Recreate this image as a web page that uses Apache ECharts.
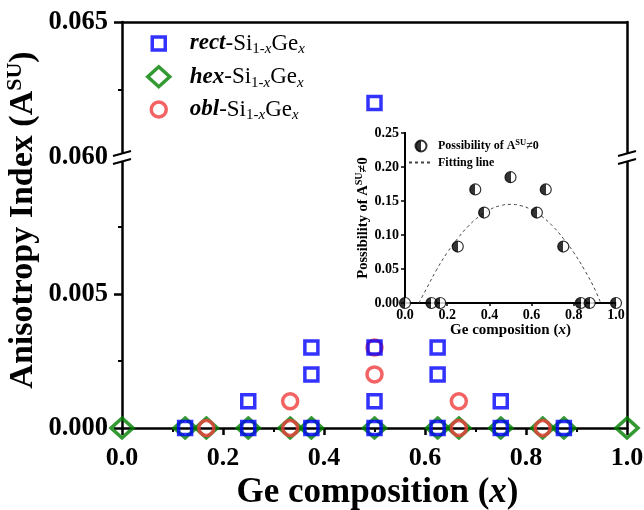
<!DOCTYPE html>
<html>
<head>
<meta charset="utf-8">
<script src="https://cdn.jsdelivr.net/npm/echarts@6/dist/echarts.min.js"></script>
<style>
html, body { margin: 0; padding: 0; background: #fff; }
#main { width: 644px; height: 510px; }
</style>
</head>
<body>
<div id="main"></div>
<script>
// Ge compositions used for all structures
var compositions = [0, 0.125, 0.167, 0.25, 0.333, 0.375, 0.5, 0.625, 0.667, 0.75, 0.833, 0.875, 1];

// anisotropy index, [x, A_SU]
var rectLow = [[0.125, 0], [0.25, 0], [0.25, 0.001], [0.375, 0], [0.375, 0.002], [0.375, 0.003],
  [0.5, 0], [0.5, 0.001], [0.5, 0.003], [0.625, 0], [0.625, 0.002], [0.625, 0.003],
  [0.75, 0], [0.75, 0.001], [0.875, 0]];
var rectHigh = [[0.5, 0.062]];
var hexVals = [0, 0, 0, 0, 0, 0, 0, 0, 0, 0, 0, 0, 0];
var oblData = [[0.167, 0], [0.333, 0], [0.333, 0.001], [0.5, 0.002], [0.5, 0.003],
  [0.667, 0], [0.667, 0.001], [0.833, 0]];

// inset: possibility of A_SU != 0
var possVals = [0, 0, 0, 0.083, 0.167, 0.133, 0.185, 0.133, 0.167, 0.083, 0, 0, 0];
var fitX = [0.066, 0.1, 0.15, 0.2, 0.25, 0.3, 0.35, 0.4, 0.45, 0.5, 0.55, 0.6, 0.65, 0.7, 0.75, 0.8, 0.85, 0.9, 0.927];
var fitY = [0, 0.02, 0.049, 0.074, 0.095, 0.113, 0.127, 0.137, 0.143, 0.145, 0.143, 0.137, 0.127, 0.113, 0.095, 0.074, 0.049, 0.02, 0];

var FONT = "'Liberation Serif', 'Times New Roman', serif";

var hexData = compositions.map(function (x, i) { return [x, hexVals[i]]; });
var possData = compositions.map(function (x, i) { return [x, possVals[i]]; });
var fitData = fitX.map(function (x, i) { return [x, fitY[i]]; });

var myChart = echarts.init(document.getElementById('main'));

var legendRich = {
  bi: { fontFamily: FONT, fontSize: 23, fontWeight: 'bold', fontStyle: 'italic', color: '#000' },
  n: { fontFamily: FONT, fontSize: 23, color: '#000' },
  s: { fontFamily: FONT, fontSize: 15, color: '#000', padding: [12, 0, 0, 0] },
  si: { fontFamily: FONT, fontSize: 15, fontStyle: 'italic', color: '#000', padding: [12, 0, 0, 0] }
};
var legendLabels = {
  rect: '{bi|rect}{n|-Si}{s|1-}{si|x}{n|Ge}{si|x}',
  hex: '{bi|hex}{n|-Si}{s|1-}{si|x}{n|Ge}{si|x}',
  obl: '{bi|obl}{n|-Si}{s|1-}{si|x}{n|Ge}{si|x}'
};
// icon centred at x=157, text starting at x=188
function mainLegend(name, top, w, h) {
  return {
    data: [name], left: 157 - w / 2, top: top, padding: 0, orient: 'vertical',
    itemWidth: w, itemHeight: h,
    itemStyle: { borderWidth: 3.5 },
    formatter: function (n) { return legendLabels[n]; },
    textStyle: { rich: legendRich, padding: [0, 0, 0, 188 - (157 + w / 2 + 5)] }
  };
}

var lineOnly = { show: true, lineStyle: { color: '#000', width: 2.5 } };
var boldLabel = { fontFamily: FONT, fontWeight: 'bold', color: '#000' };

option = {
  backgroundColor: '#fff',
  animation: false,
  grid: [
    { left: 122, top: 22, width: 505, height: 135, outerBoundsMode: 'none' },
    { left: 122, top: 160, width: 505, height: 268, outerBoundsMode: 'none' },
    { left: 405, top: 133, width: 211, height: 170, outerBoundsMode: 'none',
      show: true, backgroundColor: '#fff', borderWidth: 0, z: 5 }
  ],
  legend: [
    mainLegend('rect', 32, 13, 13),
    mainLegend('hex', 65, 22, 20),
    mainLegend('obl', 98, 15, 15),
    {
      data: ['Possibility', {
        name: 'Fitting line',
        itemStyle: { color: 'rgba(0,0,0,0)', borderColor: 'rgba(0,0,0,0)', borderWidth: 0 }
      }],
      left: 408, top: 138, padding: 0, orient: 'vertical',
      itemWidth: 24, itemHeight: 11, itemGap: 4, z: 10,
      formatter: function (n) {
        return n === 'Possibility' ? '{n|Possibility of A}{sup|SU}{n|≠0}' : '{n|Fitting line}';
      },
      textStyle: {
        rich: {
          n: { fontFamily: FONT, fontSize: 12, fontWeight: 'bold', color: '#000' },
          sup: { fontFamily: FONT, fontSize: 8.5, fontWeight: 'bold', color: '#000', padding: [0, 0, 7, 0] }
        }
      }
    }
  ],
  xAxis: [
    { gridIndex: 0, type: 'value', min: 0, max: 1, position: 'top',
      axisLine: lineOnly, axisTick: { show: false }, axisLabel: { show: false }, splitLine: { show: false } },
    { gridIndex: 1, type: 'value', min: 0, max: 1, interval: 0.2, position: 'bottom',
      axisLine: lineOnly,
      axisTick: { show: true, length: 7, lineStyle: { color: '#000', width: 2.5 } },
      minorTick: { show: true, splitNumber: 2, length: 4, lineStyle: { color: '#000', width: 2 } },
      axisLabel: Object.assign({ fontSize: 26, margin: 17, formatter: function (v) { return v.toFixed(1); } }, boldLabel),
      splitLine: { show: false },
      name: 'Ge composition ({i|x})', nameLocation: 'middle', nameGap: 43,
      nameTextStyle: {
        fontFamily: FONT, fontSize: 35, fontWeight: 'bold', color: '#000', padding: [0, 0, 0, 6],
        rich: { i: { fontFamily: FONT, fontSize: 35, fontWeight: 'bold', fontStyle: 'italic', color: '#000' } }
      } },
    { gridIndex: 2, type: 'value', min: 0, max: 1, interval: 0.2, position: 'bottom', z: 6,
      axisLine: { show: true, lineStyle: { color: '#000', width: 2 } },
      axisTick: { show: true, length: 3, lineStyle: { color: '#000', width: 1.5 } },
      axisLabel: Object.assign({ fontSize: 14, margin: 5, formatter: function (v) { return v.toFixed(1); } }, boldLabel),
      splitLine: { show: false },
      name: 'Ge composition ({i|x})', nameLocation: 'middle', nameGap: 18,
      nameTextStyle: {
        fontFamily: FONT, fontSize: 15, fontWeight: 'bold', color: '#000',
        rich: { i: { fontFamily: FONT, fontSize: 15, fontWeight: 'bold', fontStyle: 'italic', color: '#000' } }
      } },
    { gridIndex: 2, type: 'value', min: 0, max: 1, position: 'top', z: 6,
      axisLine: { show: true, lineStyle: { color: '#000', width: 2 } },
      axisTick: { show: false }, axisLabel: { show: false }, splitLine: { show: false } }
  ],
  yAxis: [
    { gridIndex: 0, type: 'value', min: 0.06, max: 0.065, interval: 0.005, position: 'left',
      axisLine: lineOnly,
      axisTick: { show: true, length: 8, lineStyle: { color: '#000', width: 2.5 } },
      minorTick: { show: true, splitNumber: 2, length: 4, lineStyle: { color: '#000', width: 2 } },
      axisLabel: Object.assign({ fontSize: 26.5, margin: 14, formatter: function (v) { return v.toFixed(3); } }, boldLabel),
      splitLine: { show: false } },
    { gridIndex: 0, type: 'value', min: 0.06, max: 0.065, position: 'right',
      axisLine: lineOnly, axisTick: { show: false }, axisLabel: { show: false }, splitLine: { show: false } },
    { gridIndex: 1, type: 'value', min: 0, max: 0.01, interval: 0.005, position: 'left',
      axisLine: lineOnly,
      axisTick: { show: true, length: 8, customValues: [0, 0.005], lineStyle: { color: '#000', width: 2.5 } },
      minorTick: { show: true, splitNumber: 2, length: 4, lineStyle: { color: '#000', width: 2 } },
      axisLabel: Object.assign({ fontSize: 26.5, margin: 14, customValues: [0, 0.005], formatter: function (v) { return v.toFixed(3); } }, boldLabel),
      splitLine: { show: false } },
    { gridIndex: 1, type: 'value', min: 0, max: 0.01, position: 'right',
      axisLine: lineOnly, axisTick: { show: false }, axisLabel: { show: false }, splitLine: { show: false } },
    { gridIndex: 2, type: 'value', min: 0, max: 0.25, interval: 0.05, position: 'left', z: 6,
      axisLine: { show: true, lineStyle: { color: '#000', width: 2 } },
      axisTick: { show: true, length: 4, lineStyle: { color: '#000', width: 1.5 } },
      axisLabel: Object.assign({ fontSize: 14, margin: 6, formatter: function (v) { return v.toFixed(2); } }, boldLabel),
      splitLine: { show: false },
      name: '{n|Possibility of A}{sup|SU}{n|≠0}', nameLocation: 'middle', nameGap: 31,
      nameTextStyle: {
        rich: {
          n: { fontFamily: FONT, fontSize: 14.5, fontWeight: 'bold', color: '#000' },
          sup: { fontFamily: FONT, fontSize: 10, fontWeight: 'bold', color: '#000', padding: [0, 0, 8, 0] }
        }
      } },
    { gridIndex: 2, type: 'value', min: 0, max: 0.25, position: 'right', z: 6,
      axisLine: { show: true, lineStyle: { color: '#000', width: 2 } },
      axisTick: { show: false }, axisLabel: { show: false }, splitLine: { show: false } }
  ],
  series: [
    { name: 'hex', type: 'scatter', xAxisIndex: 1, yAxisIndex: 2, data: hexData, clip: false,
      symbol: 'diamond', symbolSize: [22, 20],
      itemStyle: { color: 'rgba(0,0,0,0)', borderColor: '#008000', borderWidth: 3.5 } },
    { name: 'obl', type: 'scatter', xAxisIndex: 1, yAxisIndex: 2, data: oblData, clip: false,
      symbol: 'circle', symbolSize: 15,
      itemStyle: { color: 'rgba(0,0,0,0)', borderColor: '#f03c3c', borderWidth: 3.5 } },
    { name: 'rect', type: 'scatter', xAxisIndex: 1, yAxisIndex: 2, data: rectLow, clip: false,
      symbol: 'rect', symbolSize: 13,
      itemStyle: { color: 'rgba(0,0,0,0)', borderColor: '#0000ff', borderWidth: 3.5 } },
    { name: 'rect', type: 'scatter', xAxisIndex: 0, yAxisIndex: 0, data: rectHigh, clip: false,
      symbol: 'rect', symbolSize: 13,
      itemStyle: { color: 'rgba(0,0,0,0)', borderColor: '#0000ff', borderWidth: 3.5 } },
    { name: 'Fitting line', type: 'line', xAxisIndex: 2, yAxisIndex: 4, data: fitData, smooth: true,
      symbol: 'none', z: 6,
      lineStyle: { color: '#444', width: 1, type: [3, 3] }, itemStyle: { color: '#444' } },
    { name: 'Possibility', type: 'scatter', xAxisIndex: 2, yAxisIndex: 4, data: possData, clip: false,
      symbol: 'circle', symbolSize: 11, z: 7,
      itemStyle: {
        color: new echarts.graphic.LinearGradient(0, 0, 1, 0, [
          { offset: 0, color: '#000' }, { offset: 0.5, color: '#000' },
          { offset: 0.5, color: '#fff' }, { offset: 1, color: '#fff' }
        ]),
        borderColor: '#000', borderWidth: 1.2
      } }
  ],
  graphic: [
    {
      type: 'text', x: 23, y: 220, rotation: Math.PI / 2, z: 100,
      style: {
        text: '{n|Anisotropy Index (A}{sup|SU}{n|)}',
        align: 'center', verticalAlign: 'middle',
        rich: {
          n: { fontFamily: FONT, fontSize: 34, fontWeight: 'bold', fill: '#000' },
          sup: { fontFamily: FONT, fontSize: 22, fontWeight: 'bold', fill: '#000', padding: [0, 0, 15, 0] }
        }
      }
    }
  ]
};

// axis break marks on both sides
[122, 627].forEach(function (bx) {
  option.graphic.push({
    type: 'polygon', z: 100,
    shape: { points: [[bx - 9, 156], [bx + 9, 151], [bx + 9, 159], [bx - 9, 164]] },
    style: { fill: '#fff' }
  });
  option.graphic.push({
    type: 'line', z: 101,
    shape: { x1: bx - 9, y1: 156, x2: bx + 9, y2: 151 },
    style: { stroke: '#000', lineWidth: 2 }
  });
  option.graphic.push({
    type: 'line', z: 101,
    shape: { x1: bx - 9, y1: 164, x2: bx + 9, y2: 159 },
    style: { stroke: '#000', lineWidth: 2 }
  });
});

myChart.setOption(option);

window.addEventListener('resize', function () {
  myChart.resize();
});
</script>
</body>
</html>
